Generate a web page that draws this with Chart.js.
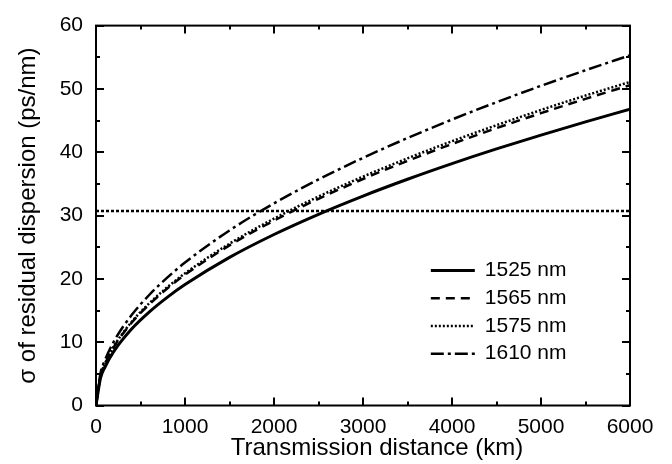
<!DOCTYPE html>
<html>
<head>
<meta charset="utf-8">
<script src="https://cdn.jsdelivr.net/npm/chart.js"></script>
<style>
  html, body { margin: 0; padding: 0; background: #fff; }
  #wrap { width: 672px; height: 464px; }
</style>
</head>
<body>
<div id="wrap"><canvas id="sigmaChart"></canvas></div>
<script>
// transmission distance (km) and sigma of residual dispersion (ps/nm) per wavelength
const distanceKm = [0, 50, 100, 200, 400, 600, 800, 1000, 1500, 2000, 2500, 3000, 3500, 4000, 4500, 5000, 5500, 6000];
const sigma1525 = [0, 4.27, 6.04, 8.54, 12.08, 14.79, 17.08, 19.10, 23.39, 27.01, 30.20, 33.08, 35.73, 38.20, 40.52, 42.71, 44.79, 46.8];
const sigma1565 = [0, 4.62, 6.53, 9.23, 13.06, 15.99, 18.47, 20.65, 25.29, 29.20, 32.65, 35.77, 38.63, 41.30, 43.80, 46.17, 48.43, 50.6];
const sigma1575 = [0, 4.67, 6.60, 9.33, 13.20, 16.16, 18.67, 20.87, 25.56, 29.51, 33.00, 36.15, 39.04, 41.74, 44.27, 46.67, 48.95, 51.1];
const sigma1610 = [0, 5.05, 7.14, 10.10, 14.28, 17.49, 20.19, 22.58, 27.65, 31.93, 35.70, 39.11, 42.24, 45.16, 47.90, 50.49, 52.95, 55.3];
const limitKm = [0, 6000];
const limitSigma = [30.7, 30.7];

const seriesNames = ['1525 nm', '1565 nm', '1575 nm', '1610 nm'];
const xTitle = 'Transmission distance (km)';
const yTitle = 'σ of residual dispersion (ps/nm)';

const FONT = 'Liberation Sans, Arial, sans-serif';

function pts(xs, ys) {
  return xs.map((x, i) => ({ x: x, y: ys[i] }));
}

function curve(label, ys, width, dash) {
  return {
    label: label,
    data: pts(distanceKm, ys),
    borderColor: '#000',
    borderWidth: width,
    borderDash: dash,
    pointRadius: 0,
    cubicInterpolationMode: 'monotone',
    fill: false
  };
}

// boxed frame with inward major/minor ticks on all four sides
const framePlugin = {
  id: 'frame',
  afterDatasetsDraw(chart) {
    const { ctx, chartArea: a, scales } = chart;
    const xs = scales.x, ys = scales.y;
    ctx.save();
    ctx.strokeStyle = '#000';
    ctx.lineWidth = 2;
    ctx.setLineDash([]);
    ctx.strokeRect(a.left, a.top, a.right - a.left, a.bottom - a.top);
    const major = 8, minor = 4;
    ctx.beginPath();
    for (let v = 0; v <= 6000; v += 500) {
      const len = v % 1000 === 0 ? major : minor;
      const px = Math.round(xs.getPixelForValue(v));
      ctx.moveTo(px, a.bottom); ctx.lineTo(px, a.bottom - len);
      ctx.moveTo(px, a.top); ctx.lineTo(px, a.top + len);
    }
    for (let v = 0; v <= 60; v += 5) {
      const len = v % 10 === 0 ? major : minor;
      const py = Math.round(ys.getPixelForValue(v));
      ctx.moveTo(a.left, py); ctx.lineTo(a.left + len, py);
      ctx.moveTo(a.right, py); ctx.lineTo(a.right - len, py);
    }
    ctx.stroke();

    // x axis title, set a little right of the plot centre
    ctx.font = '24px ' + FONT;
    ctx.fillStyle = '#000';
    ctx.textAlign = 'center';
    ctx.textBaseline = 'middle';
    ctx.fillText(xTitle, (a.left + a.right) / 2 + 14, 448);
    ctx.restore();
  }
};

// legend inside the plot, lower right
const legendPlugin = {
  id: 'inLegend',
  afterDatasetsDraw(chart) {
    const { ctx, chartArea: a } = chart;
    const x0 = a.left + (a.right - a.left) * 0.627;
    const y0 = a.top + 245;
    const rowH = 27.7;
    ctx.save();
    ctx.font = '21px ' + FONT;
    ctx.fillStyle = '#000';
    ctx.textBaseline = 'middle';
    chart.data.datasets.forEach((ds, i) => {
      if (!ds.label) return;
      const y = y0 + i * rowH;
      ctx.strokeStyle = '#000';
      ctx.lineWidth = ds.borderWidth;
      ctx.setLineDash(ds.borderDash || []);
      ctx.beginPath();
      ctx.moveTo(x0, y);
      ctx.lineTo(x0 + 44, y);
      ctx.stroke();
      ctx.fillText(ds.label, x0 + 54, y);
    });
    ctx.restore();
  }
};

const ctx = document.getElementById('sigmaChart').getContext('2d');
const chart = new Chart(ctx, {
  type: 'line',
  data: {
    datasets: [
      curve(seriesNames[0], sigma1525, 3, []),
      curve(seriesNames[1], sigma1565, 2.5, [9, 6]),
      curve(seriesNames[2], sigma1575, 2.5, [2, 2]),
      curve(seriesNames[3], sigma1610, 2.5, [13, 4, 3, 4]),
      {
        label: '',
        data: pts(limitKm, limitSigma),
        borderColor: '#000',
        borderWidth: 2.5,
        borderDash: [3, 2],
        pointRadius: 0,
        fill: false
      }
    ]
  },
  options: {
    responsive: true,
    maintainAspectRatio: false,
    animation: false,
    layout: { padding: { left: 0, right: 42, top: 20, bottom: 0 } },
    plugins: {
      legend: { display: false },
      tooltip: { enabled: false }
    },
    scales: {
      x: {
        type: 'linear',
        min: 0,
        max: 6000,
        grid: { display: false, drawTicks: false },
        border: { display: false },
        ticks: {
          stepSize: 1000,
          color: '#000',
          font: { family: FONT, size: 21 },
          padding: 9,
          maxRotation: 0,
          callback: (v) => String(v)
        },
        title: { display: false },
        afterFit(scale) { scale.height = 58.5; }
      },
      y: {
        min: 0,
        max: 60,
        grid: { display: false, drawTicks: false },
        border: { display: false },
        ticks: {
          stepSize: 10,
          color: '#000',
          font: { family: FONT, size: 21 },
          padding: 13
        },
        title: {
          display: true,
          text: yTitle,
          color: '#000',
          font: { family: FONT, size: 24 },
          padding: { top: 14, bottom: 0 }
        },
        afterFit(scale) { scale.width = 96; }
      }
    }
  },
  plugins: [framePlugin, legendPlugin]
});
</script>
</body>
</html>
